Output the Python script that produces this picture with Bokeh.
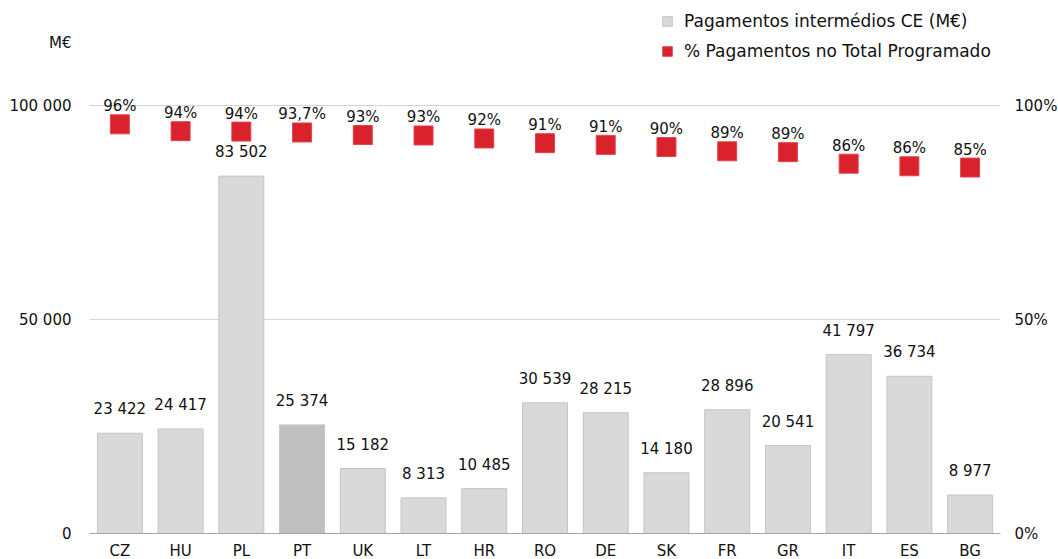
from bokeh.plotting import figure
from bokeh.models import (ColumnDataSource, Range1d, LinearAxis, FixedTicker,
                          CustomJSTickFormatter, LabelSet, Legend, LegendItem)
from bokeh.core.properties import value
from bokeh.embed import file_html
from bokeh.resources import INLINE

countries = ["CZ", "HU", "PL", "PT", "UK", "LT", "HR", "RO", "DE", "SK", "FR", "GR", "IT", "ES", "BG"]
payments = [23422, 24417, 83502, 25374, 15182, 8313, 10485, 30539, 28215, 14180, 28896, 20541, 41797, 36734, 8977]
payment_labels = ["23 422", "24 417", "83 502", "25 374", "15 182", "8 313", "10 485", "30 539",
                  "28 215", "14 180", "28 896", "20 541", "41 797", "36 734", "8 977"]
pct = [95.6, 94.0, 93.9, 93.7, 93.1, 93.0, 92.3, 91.2, 90.8, 90.3, 89.3, 89.1, 86.4, 85.8, 85.5]
pct_labels = ["96%", "94%", "94%", "93,7%", "93%", "93%", "92%", "91%", "91%", "90%",
              "89%", "89%", "86%", "86%", "85%"]
y_ticks = [0, 50000, 100000]
pct_ticks = [0, 50, 100]
unit_label = "M€"

FONT = "DejaVu Sans"
TXT = "#111111"
RED = "#da222c"
bar_colors = ["#bfbfbf" if c == "PT" else "#d9d9d9" for c in countries]

src = ColumnDataSource(dict(x=countries, pay=payments, paylab=payment_labels,
                            pct=pct, pctlab=pct_labels, color=bar_colors))

PX_PER_UNIT = 428 / 100000          # 100 000 spans 428 px
FRAME_H = 529
Y_MAX = FRAME_H / PX_PER_UNIT
UNIT_Y = (533 - 42) / PX_PER_UNIT   # level at which the unit label sits

p = figure(x_range=countries, y_range=Range1d(0, Y_MAX),
           frame_width=911, frame_height=FRAME_H,
           output_backend="svg", toolbar_location=None,
           min_border_left=89, min_border_right=57, min_border_top=4, min_border_bottom=24)
p.outline_line_color = None
p.x_range.range_padding = 0
p.extra_y_ranges = {"pct": Range1d(0, Y_MAX / 1000)}

bars = p.vbar(x="x", top="pay", width=0.74, source=src, fill_color="color",
              line_color="#c4c4c4", line_width=1)
marks = p.rect(x="x", y="pct", width=19, height=19, width_units="screen", height_units="screen",
               y_range_name="pct", source=src, fill_color=RED, line_color="#e0454e", line_width=1)

p.add_layout(LabelSet(x="x", y="pay", text="paylab", source=src, text_align="center",
                      text_baseline="bottom", y_offset=15, text_font_size=value("15px"),
                      text_font=value(FONT), text_color=TXT))
p.add_layout(LabelSet(x="x", y="pct", y_range_name="pct", text="pctlab", source=src,
                      text_align="center", text_baseline="middle", y_offset=18,
                      text_font_size=value("15px"), text_font=value(FONT), text_color=TXT))

# axes
p.xaxis.axis_line_color = "#a6a6a6"
p.xaxis.major_tick_line_color = None
p.xaxis.minor_tick_line_color = None
p.xaxis.major_tick_out = 0
p.xaxis.major_tick_in = 0
p.xaxis.axis_label_standoff = 0
p.xaxis.major_label_standoff = 8
p.xaxis.major_label_text_font = FONT
p.xaxis.major_label_text_font_size = "15px"
p.xaxis.major_label_text_color = TXT

p.yaxis.ticker = FixedTicker(ticks=y_ticks + [UNIT_Y])
p.yaxis.formatter = CustomJSTickFormatter(
    args=dict(unit_y=UNIT_Y, unit=unit_label),
    code="if (Math.abs(tick - unit_y) < 1) { return unit; } "
         "return Math.round(tick).toString().replace(/\\B(?=(\\d{3})+(?!\\d))/g, ' ');")
p.yaxis.axis_line_color = None
p.yaxis.major_tick_line_color = None
p.yaxis.minor_tick_line_color = None
p.yaxis.major_tick_out = 0
p.yaxis.major_tick_in = 0
p.yaxis.axis_label_standoff = 0
p.yaxis.major_label_standoff = 18
p.yaxis.major_label_text_font = FONT
p.yaxis.major_label_text_font_size = "15px"
p.yaxis.major_label_text_color = TXT

raxis = LinearAxis(y_range_name="pct", ticker=FixedTicker(ticks=pct_ticks),
                   formatter=CustomJSTickFormatter(code="return tick + '%';"))
raxis.axis_line_color = None
raxis.major_tick_line_color = None
raxis.minor_tick_line_color = None
raxis.major_tick_out = 0
raxis.major_tick_in = 0
raxis.axis_label_standoff = 0
raxis.major_label_standoff = 14
raxis.major_label_text_font = FONT
raxis.major_label_text_font_size = "15px"
raxis.major_label_text_color = TXT
p.add_layout(raxis, "right")

p.xgrid.grid_line_color = None
p.ygrid.ticker = FixedTicker(ticks=[50000, 100000])
p.ygrid.grid_line_color = "#d4d4d4"

legend = Legend(items=[LegendItem(label="Pagamentos intermédios CE (M€)", renderers=[bars], index=0),
                       LegendItem(label="% Pagamentos no Total Programado", renderers=[marks], index=0)],
                location=(572, 472), glyph_width=12, glyph_height=12, label_standoff=11,
                padding=0, margin=0, spacing=10, label_text_font=FONT,
                label_text_font_size="17px", label_text_color=TXT,
                border_line_alpha=0, background_fill_alpha=0)
p.add_layout(legend, "center")

open("out.html", "w").write(file_html(p, INLINE))
